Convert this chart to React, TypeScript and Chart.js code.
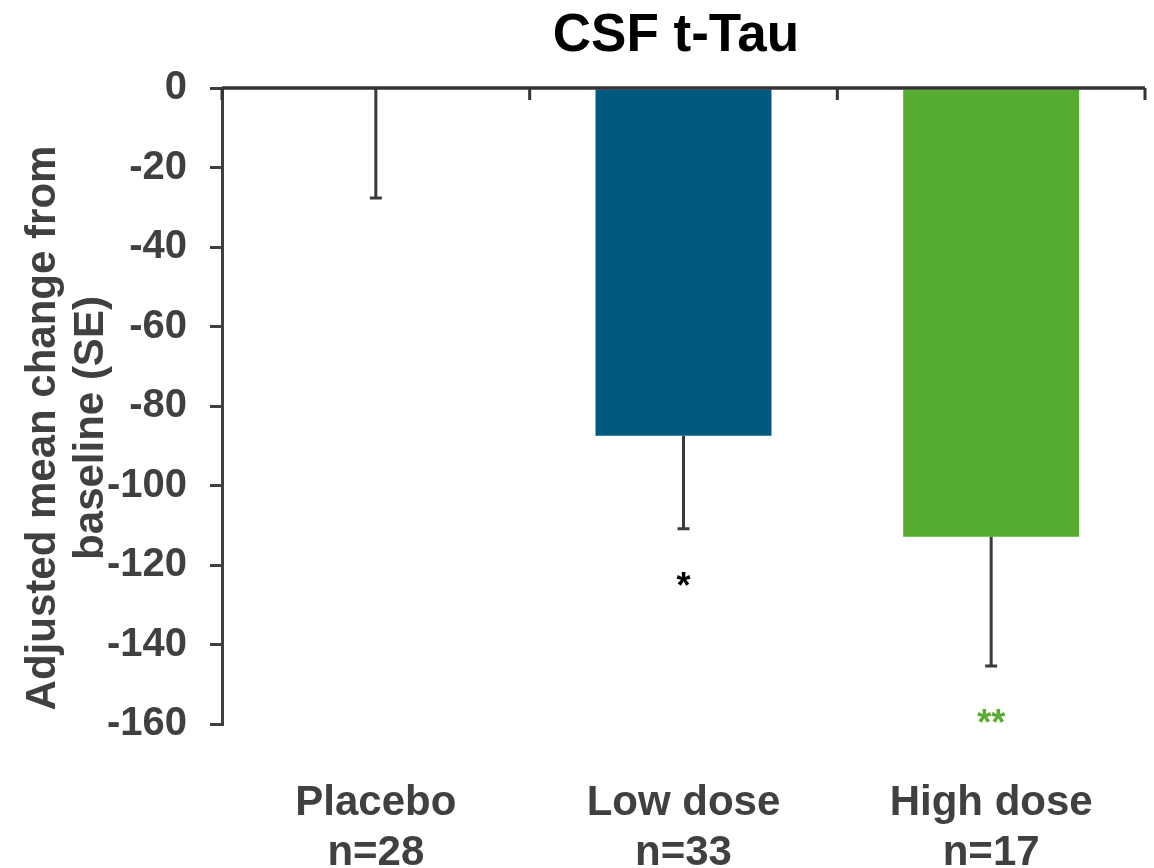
import React, { useEffect, useRef } from "react";
import { Chart, registerables } from "chart.js";

Chart.register(...registerables);

const categories: string[][] = [
  ["Placebo", "n=28"],
  ["Low dose", "n=33"],
  ["High dose", "n=17"],
];
const meanChange: number[] = [0, -87.5, -112.9];
const standardError: number[] = [27.7, 23.4, 32.5];
const barColors: string[] = ["#8c8c8c", "#005a80", "#56ad30"];
const sigLabels: string[] = ["", "*", "**"];
const sigValues: (number | null)[] = [null, -124, -158.5];
const sigColors: string[] = ["#000000", "#000000", "#56ad30"];
const yTicks: number[] = [0, -20, -40, -60, -80, -100, -120, -140, -160];
const titleText = "CSF t-Tau";
const yTitleLines: string[] = ["Adjusted mean change from", "baseline (SE)"];

const FONT = "'Liberation Sans', Arial, Helvetica, sans-serif";
const AXIS_COLOR = "#404040";

const decorPlugin = {
  id: "decor",
  afterDatasetsDraw(chart: any) {
    const ctx = chart.ctx;
    const x = chart.scales.x;
    const y = chart.scales.y;
    const area = chart.chartArea;
    ctx.save();
    // error bars
    ctx.strokeStyle = "#3a3a3a";
    ctx.lineWidth = 3;
    meanChange.forEach((v, i) => {
      const px = x.getPixelForValue(i);
      const y0 = y.getPixelForValue(v);
      const y1 = y.getPixelForValue(v - standardError[i]);
      ctx.beginPath();
      ctx.moveTo(px, y0);
      ctx.lineTo(px, y1);
      ctx.moveTo(px - 6, y1);
      ctx.lineTo(px + 6, y1);
      ctx.stroke();
    });
    // top axis line at zero with boundary ticks
    const yz = y.getPixelForValue(0);
    ctx.strokeStyle = "#333333";
    ctx.lineWidth = 3.5;
    ctx.beginPath();
    ctx.moveTo(area.left, yz);
    ctx.lineTo(area.right, yz);
    ctx.stroke();
    ctx.lineWidth = 3;
    const half = (x.getPixelForValue(1) - x.getPixelForValue(0)) / 2;
    for (let i = 0; i <= categories.length; i++) {
      const bx = x.getPixelForValue(i) - half;
      ctx.beginPath();
      ctx.moveTo(bx, yz);
      ctx.lineTo(bx, yz + 12);
      ctx.stroke();
    }
    // significance markers
    ctx.textAlign = "center";
    ctx.textBaseline = "middle";
    sigLabels.forEach((s, i) => {
      const v = sigValues[i];
      if (!s || v === null) return;
      ctx.fillStyle = sigColors[i];
      ctx.font = `bold 36px ${FONT}`;
      ctx.fillText(s, x.getPixelForValue(i), y.getPixelForValue(v) + 7);
    });
    ctx.restore();
  },
  afterDraw(chart: any) {
    const ctx = chart.ctx;
    const area = chart.chartArea;
    ctx.save();
    // title
    ctx.fillStyle = "#000000";
    ctx.font = `bold 53px ${FONT}`;
    ctx.textAlign = "center";
    ctx.textBaseline = "alphabetic";
    ctx.fillText(titleText, 676, 51);
    // y axis title
    ctx.fillStyle = AXIS_COLOR;
    ctx.font = `bold 42px ${FONT}`;
    const cy = (area.top + area.bottom) / 2 + 22;
    const baselines = [55, 103];
    yTitleLines.forEach((line, i) => {
      ctx.save();
      ctx.translate(baselines[i], cy);
      ctx.rotate(-Math.PI / 2);
      ctx.fillText(line, 0, 0);
      ctx.restore();
    });
    ctx.restore();
  },
};

export default function App() {
  const ref = useRef<HTMLCanvasElement | null>(null);
  useEffect(() => {
    if (!ref.current) return;
    const chart = new Chart(ref.current, {
      type: "bar",
      data: {
        labels: categories,
        datasets: [
          {
            data: meanChange,
            backgroundColor: barColors,
            borderWidth: 0,
            categoryPercentage: 1,
            barPercentage: 0.572,
          },
        ],
      },
      options: {
        animation: false,
        responsive: false,
        layout: { padding: { top: 88, right: 9, bottom: 0, left: 0 } },
        plugins: {
          legend: { display: false },
          title: { display: false },
          tooltip: { enabled: false },
        },
        scales: {
          x: {
            position: "bottom",
            grid: { display: false, drawTicks: false },
            border: { display: false },
            ticks: {
              color: AXIS_COLOR,
              font: { family: FONT, size: 42, weight: "bold" },
              padding: 54,
              maxRotation: 0,
              autoSkip: false,
            },
            afterFit: (s: any) => {
              s.height = 144;
            },
          },
          y: {
            min: -160,
            max: 0,
            afterBuildTicks: (s: any) => {
              s.ticks = yTicks.map((v) => ({ value: v }));
            },
            grid: {
              drawOnChartArea: false,
              drawTicks: true,
              tickLength: 12,
              color: AXIS_COLOR,
              lineWidth: 3,
            },
            border: { display: true, color: AXIS_COLOR, width: 3 },
            ticks: {
              color: AXIS_COLOR,
              font: { family: FONT, size: 40, weight: "bold" },
              padding: 23,
              callback: (v: any) => String(v),
            },
            afterFit: (s: any) => {
              s.width = 222;
            },
          },
        },
      },
      plugins: [decorPlugin],
    });
    return () => chart.destroy();
  }, []);
  return (
    <div style={{ position: "absolute", left: 0, top: 0, width: 1154, height: 868, background: "#ffffff" }}>
      <canvas ref={ref} width={1154} height={868} />
    </div>
  );
}
